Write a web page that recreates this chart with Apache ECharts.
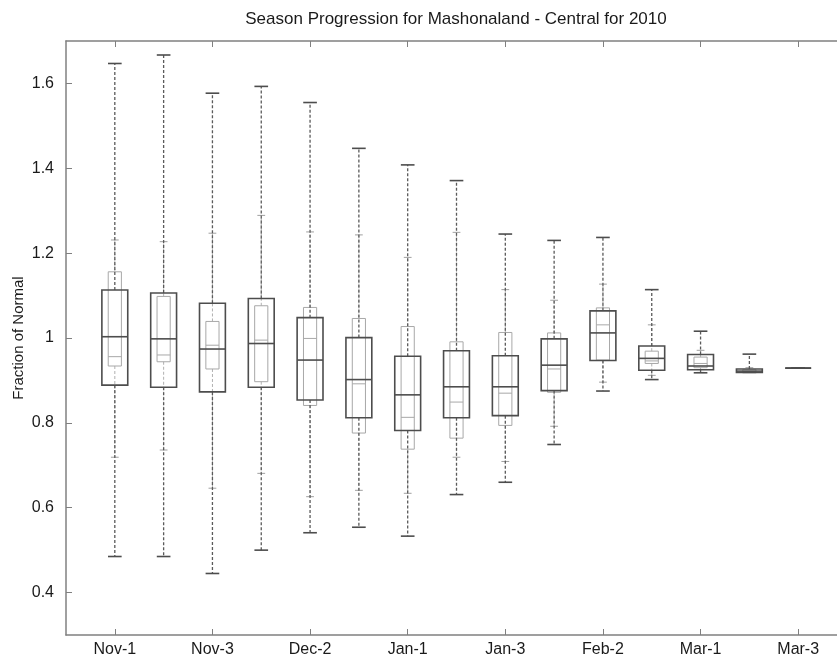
<!DOCTYPE html>
<html>
<head>
<meta charset="utf-8">
<title>Season Progression for Mashonaland - Central for 2010</title>
<script src="https://cdn.jsdelivr.net/npm/echarts@6/dist/echarts.min.js"></script>
<style>
  html, body { margin: 0; padding: 0; background: #fff; }
  #chart { width: 837px; height: 657px; }
</style>
</head>
<body>
<div id="chart"></div>
<script>
// dekads of the season
var categories = ['Nov-1', 'Nov-2', 'Nov-3', 'Dec-1', 'Dec-2', 'Dec-3', 'Jan-1', 'Jan-2',
                  'Jan-3', 'Feb-1', 'Feb-2', 'Feb-3', 'Mar-1', 'Mar-2', 'Mar-3'];

// wide dark boxes
var outerLow    = [0.485, 0.485, 0.445, 0.500, 0.541, 0.554, 0.533, 0.631, 0.660, 0.749, 0.875, 0.902, 0.918, 0.919, 0.929];
var outerQ1     = [0.889, 0.884, 0.873, 0.884, 0.854, 0.812, 0.782, 0.812, 0.817, 0.876, 0.947, 0.924, 0.925, 0.919, 0.929];
var outerMedian = [1.003, 0.998, 0.974, 0.987, 0.948, 0.902, 0.866, 0.885, 0.885, 0.936, 1.012, 0.952, 0.934, 0.922, 0.929];
var outerQ3     = [1.113, 1.106, 1.082, 1.093, 1.048, 1.001, 0.957, 0.970, 0.958, 0.998, 1.064, 0.981, 0.961, 0.927, 0.929];
var outerHigh   = [1.647, 1.667, 1.577, 1.593, 1.555, 1.447, 1.408, 1.371, 1.245, 1.230, 1.237, 1.114, 1.016, 0.962, 0.929];

// narrow light boxes
var innerLow    = [0.719, 0.736, 0.646, 0.681, 0.626, 0.641, 0.634, 0.719, 0.709, 0.792, 0.896, 0.912, 0.919, 0.919, 0.929];
var innerQ1     = [0.934, 0.944, 0.927, 0.897, 0.841, 0.776, 0.738, 0.764, 0.794, 0.872, 0.948, 0.940, 0.930, 0.920, 0.929];
var innerMedian = [0.956, 0.960, 0.983, 0.995, 0.999, 0.892, 0.813, 0.849, 0.870, 0.927, 1.031, 0.946, 0.940, 0.922, 0.929];
var innerQ3     = [1.156, 1.098, 1.039, 1.076, 1.072, 1.046, 1.027, 0.991, 1.013, 1.012, 1.071, 0.969, 0.955, 0.926, 0.929];
var innerHigh   = [1.231, 1.227, 1.247, 1.289, 1.250, 1.243, 1.190, 1.249, 1.114, 1.089, 1.127, 1.031, 0.971, 0.930, 0.929];

var yTicks = [0.4, 0.6, 0.8, 1, 1.2, 1.4, 1.6];

var font = 'Liberation Sans, Arial, sans-serif';
var axisGray = '#808080';

function rows(low, q1, med, q3, high) {
  return categories.map(function (c, i) {
    return [c, low[i], q1[i], med[i], q3[i], high[i]];
  });
}

// draws one box with whiskers, sizes relative to the category band
function boxRenderer(opt) {
  return function (params, api) {
    var x = api.value(0);
    var pt = function (dim) { return api.coord([x, api.value(dim)]); };
    var lo = pt(1), q1 = pt(2), md = pt(3), q3 = pt(4), hi = pt(5);
    var cx = md[0];
    var band = api.size([1, 0])[0];
    var bw = band * opt.box / 2;
    var cw = band * opt.cap / 2;
    var dash = { stroke: opt.whisker, lineWidth: opt.whiskerWidth, lineDash: [3, 2], fill: 'none' };
    var cap = { stroke: opt.capColor, lineWidth: opt.width, fill: 'none' };
    var solid = { stroke: opt.color, lineWidth: opt.width, fill: 'none' };
    var kids = [];
    if (hi[1] < q3[1]) {
      kids.push({ type: 'line', shape: { x1: cx, y1: q3[1], x2: cx, y2: hi[1] }, style: dash });
    }
    if (lo[1] > q1[1]) {
      kids.push({ type: 'line', shape: { x1: cx, y1: q1[1], x2: cx, y2: lo[1] }, style: dash });
    }
    kids.push({ type: 'line', shape: { x1: cx - cw, y1: hi[1], x2: cx + cw, y2: hi[1] }, style: cap });
    kids.push({ type: 'line', shape: { x1: cx - cw, y1: lo[1], x2: cx + cw, y2: lo[1] }, style: cap });
    kids.push({ type: 'rect', shape: { x: cx - bw, y: q3[1], width: bw * 2, height: q1[1] - q3[1] }, style: solid });
    kids.push({ type: 'line', shape: { x1: cx - bw, y1: md[1], x2: cx + bw, y2: md[1] }, style: solid });
    return { type: 'group', children: kids };
  };
}

// one empty slot each side, like the matlab xlim
var axisCats = [''].concat(categories, [' ']);
var everyOther = function (index) { return index % 2 === 1; };

var myChart = echarts.init(document.getElementById('chart'));

myChart.setOption({
  backgroundColor: '#fff',
  animation: false,
  title: {
    text: 'Season Progression for Mashonaland - Central for 2010',
    left: 451,
    textAlign: 'center',
    top: 6,
    textStyle: { fontFamily: font, fontSize: 17, fontWeight: 'normal', color: '#1a1a1a' }
  },
  grid: { left: 66, top: 41, right: -10, bottom: 22, outerBoundsMode: 'none' },
  xAxis: [
    {
      type: 'category',
      data: axisCats,
      boundaryGap: false,
      position: 'bottom',
      axisLine: { lineStyle: { color: axisGray, width: 1.5 } },
      axisTick: { inside: true, length: 6, interval: everyOther, lineStyle: { color: axisGray } },
      axisLabel: { interval: everyOther, margin: 7, color: '#1a1a1a', fontFamily: font, fontSize: 16 },
      splitLine: { show: false }
    },
    {
      type: 'category',
      data: axisCats,
      boundaryGap: false,
      position: 'top',
      axisLine: { lineStyle: { color: axisGray, width: 1.5 } },
      axisTick: { inside: true, length: 6, interval: everyOther, lineStyle: { color: axisGray } },
      axisLabel: { show: false },
      splitLine: { show: false }
    }
  ],
  yAxis: {
    type: 'value',
    min: 0.3,
    max: 1.7,
    name: 'Fraction of Normal',
    nameLocation: 'middle',
    nameGap: 40,
    nameMoveOverlap: false,
    nameTextStyle: { fontFamily: font, fontSize: 15, color: '#1a1a1a' },
    axisLine: { show: true, lineStyle: { color: axisGray, width: 1.5 } },
    axisTick: { show: true, inside: true, length: 6, customValues: yTicks, lineStyle: { color: axisGray } },
    axisLabel: { customValues: yTicks, margin: 12, color: '#1a1a1a', fontFamily: font, fontSize: 16 },
    splitLine: { show: false }
  },
  series: [
    {
      name: 'inner',
      type: 'custom',
      renderItem: boxRenderer({ box: 0.27, cap: 0.16, color: '#a8a8a8', capColor: '#a0a0a0', whisker: '#b0b0b0', width: 1, whiskerWidth: 1 }),
      encode: { x: 0, y: [1, 2, 3, 4, 5] },
      data: rows(innerLow, innerQ1, innerMedian, innerQ3, innerHigh),
      z: 2
    },
    {
      name: 'outer',
      type: 'custom',
      renderItem: boxRenderer({ box: 0.53, cap: 0.28, color: '#4d4d4d', capColor: '#4d4d4d', whisker: '#5a5a5a', width: 1.6, whiskerWidth: 1.3 }),
      encode: { x: 0, y: [1, 2, 3, 4, 5] },
      data: rows(outerLow, outerQ1, outerMedian, outerQ3, outerHigh),
      z: 3
    }
  ]
});
</script>
</body>
</html>
